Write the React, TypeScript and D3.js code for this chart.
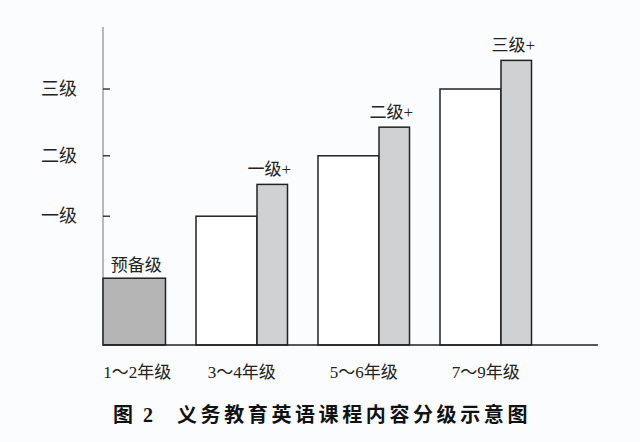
import React from "react";
import * as d3 from "d3";

const groups = ["1～2年级", "3～4年级", "5～6年级", "7～9年级"];
const baseLabels = ["预备级", "一级", "二级", "三级"];
const baseValues = [2.1, 4.05, 5.95, 8.05];
const plusLabels = ["", "一级+", "二级+", "三级+"];
const plusValues = [0, 5.05, 6.85, 8.95];
const tickValues = [4.05, 5.95, 8.05];
const tickLabels = ["一级", "二级", "三级"];
const captionNo = "图 2";
const captionText = "义务教育英语课程内容分级示意图";

const W = 640;
const H = 442;
const axisX = 103;
const axisTop = 27;
const baseY = 345;
const axisRight = 598;

const FONT = "'Liberation Serif', 'Noto Sans CJK SC', serif";

export default function App() {
  const x = d3.scaleBand<string>().domain(groups).range([74, 562]).paddingInner(0).paddingOuter(0);
  const y = d3.scaleLinear().domain([0, 10]).range([baseY, axisTop]);
  const step = x.step();
  const baseW = step * 0.5;
  const plusW = step * 0.25;

  return (
    <svg width={W} height={H} style={{ position: "absolute", left: 0, top: 0, background: "#fbfcfd" }}>
      <rect x={0} y={0} width={W} height={H} fill="#fbfcfd" />
      {/* y axis */}
      <line x1={axisX} x2={axisX} y1={axisTop} y2={baseY} stroke="#777" strokeWidth={1} />
      {tickValues.map((v, i) => (
        <g key={i}>
          <line x1={axisX} x2={axisX + 7} y1={y(v)} y2={y(v)} stroke="#222" strokeWidth={1.3} />
          <text x={77} y={y(v)} textAnchor="end" dominantBaseline="central" fontSize={18} fontFamily={FONT} fill="#222">
            {tickLabels[i]}
          </text>
        </g>
      ))}
      {groups.map((g, i) => {
        const x0 = x(g) as number;
        if (i === 0) {
          const left = Math.max(x0, axisX);
          const right = x0 + baseW + plusW;
          return (
            <g key={g}>
              <rect x={left} y={y(baseValues[i])} width={right - left} height={baseY - y(baseValues[i])} fill="#b5b5b6" stroke="#222" strokeWidth={1.5} />
              <text x={(left + right) / 2 + 2} y={y(baseValues[i]) - 13} textAnchor="middle" dominantBaseline="central" fontSize={17} fontFamily={FONT} fill="#222">
                {baseLabels[i]}
              </text>
              <text x={(left + right) / 2 + 3} y={372} textAnchor="middle" dominantBaseline="central" fontSize={17} fontFamily={FONT} fill="#222">
                {g}
              </text>
            </g>
          );
        }
        const px = x0 + baseW;
        return (
          <g key={g}>
            <rect x={x0} y={y(baseValues[i])} width={baseW} height={baseY - y(baseValues[i])} fill="#ffffff" stroke="#222" strokeWidth={1.5} />
            <rect x={px} y={y(plusValues[i])} width={plusW} height={baseY - y(plusValues[i])} fill="#d0d1d3" stroke="#222" strokeWidth={1.5} />
            <text x={px + plusW / 2 - 3} y={y(plusValues[i]) - 15} textAnchor="middle" dominantBaseline="central" fontSize={17} fontFamily={FONT} fill="#222">
              {plusLabels[i]}
            </text>
            <text x={x0 + (baseW + plusW) / 2} y={372} textAnchor="middle" dominantBaseline="central" fontSize={17} fontFamily={FONT} fill="#222">
              {g}
            </text>
          </g>
        );
      })}
      {/* baseline */}
      <line x1={axisX} x2={axisRight} y1={baseY} y2={baseY} stroke="#222" strokeWidth={1.5} />
      {/* caption */}
      <text x={113} y={415} dominantBaseline="central" fontSize={20} fontWeight="bold" fontFamily={FONT} fill="#111" style={{ whiteSpace: "pre" }}>
        {"图  2"}
      </text>
      <text x={177} y={415} dominantBaseline="central" fontSize={20} fontWeight="bold" letterSpacing={3.6} fontFamily={FONT} fill="#111">
        {captionText}
      </text>
    </svg>
  );
}
